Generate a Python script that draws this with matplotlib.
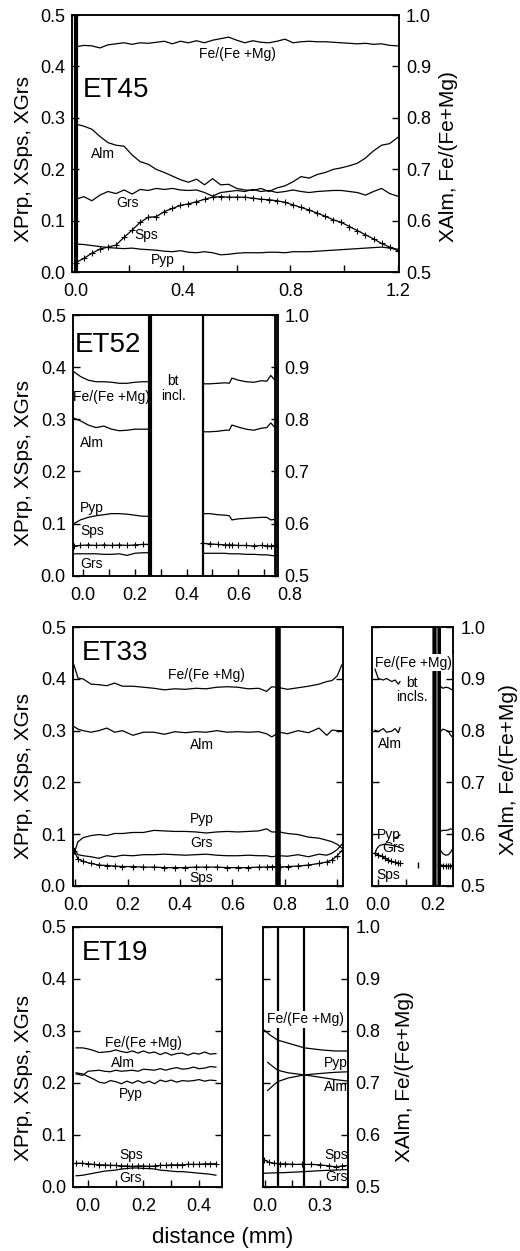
import matplotlib
matplotlib.use('Agg')
import matplotlib.pyplot as plt
from matplotlib.ticker import MultipleLocator, FormatStrFormatter

plt.rcParams['font.family'] = ['Liberation Sans', 'DejaVu Sans']

W, H = 520, 1251

# ---- ET45 ----
et45_x = [0.00, 0.03, 0.06, 0.09, 0.12, 0.15, 0.18, 0.21, 0.24, 0.27, 0.30, 0.33, 0.36, 0.39,
          0.42, 0.45, 0.48, 0.51, 0.54, 0.57, 0.60, 0.63, 0.66, 0.69, 0.72, 0.75, 0.78, 0.81,
          0.84, 0.87, 0.90, 0.93, 0.96, 0.99, 1.02, 1.05, 1.08, 1.11, 1.14, 1.17, 1.20]
et45_fe = [0.938, 0.941, 0.940, 0.936, 0.942, 0.944, 0.946, 0.943, 0.946, 0.945, 0.947, 0.949, 0.944, 0.949,
           0.946, 0.950, 0.946, 0.951, 0.954, 0.957, 0.951, 0.946, 0.950, 0.947, 0.946, 0.949, 0.953, 0.946,
           0.948, 0.949, 0.948, 0.948, 0.947, 0.946, 0.945, 0.944, 0.945, 0.943, 0.944, 0.941, 0.940]
et45_alm = [0.788, 0.784, 0.778, 0.764, 0.752, 0.747, 0.745, 0.728, 0.715, 0.710, 0.700, 0.694, 0.687, 0.680,
            0.675, 0.681, 0.670, 0.682, 0.670, 0.671, 0.663, 0.660, 0.659, 0.663, 0.657, 0.664, 0.668, 0.676,
            0.686, 0.683, 0.690, 0.694, 0.700, 0.703, 0.707, 0.712, 0.722, 0.736, 0.747, 0.750, 0.762]
et45_grs = [0.142, 0.147, 0.139, 0.150, 0.157, 0.153, 0.160, 0.152, 0.161, 0.159, 0.163, 0.161, 0.163, 0.160,
            0.159, 0.160, 0.155, 0.148, 0.155, 0.157, 0.159, 0.157, 0.161, 0.157, 0.159, 0.155, 0.157, 0.160,
            0.157, 0.155, 0.157, 0.158, 0.159, 0.159, 0.157, 0.155, 0.150, 0.157, 0.163, 0.153, 0.148]
et45_pyp = [0.055, 0.054, 0.052, 0.050, 0.048, 0.047, 0.046, 0.047, 0.045, 0.044, 0.043, 0.041, 0.040, 0.042,
            0.039, 0.038, 0.040, 0.038, 0.034, 0.035, 0.037, 0.038, 0.038, 0.038, 0.039, 0.039, 0.038, 0.040,
            0.040, 0.040, 0.041, 0.042, 0.043, 0.044, 0.045, 0.046, 0.047, 0.048, 0.049, 0.047, 0.045]
et45_sps = [0.019, 0.027, 0.037, 0.045, 0.049, 0.053, 0.068, 0.082, 0.097, 0.107, 0.108, 0.118, 0.124, 0.130,
            0.133, 0.137, 0.142, 0.146, 0.147, 0.146, 0.146, 0.146, 0.144, 0.142, 0.141, 0.139, 0.136, 0.131,
            0.126, 0.121, 0.115, 0.109, 0.102, 0.097, 0.089, 0.081, 0.073, 0.065, 0.056, 0.049, 0.042]

# ---- ET52 (core segment a, rim segment b) ----
et52_xa = [-0.035, -0.01, 0.02, 0.05, 0.08, 0.11, 0.14, 0.17, 0.20, 0.23, 0.25]
et52_fe_a = [0.891, 0.882, 0.875, 0.872, 0.872, 0.871, 0.869, 0.869, 0.871, 0.872, 0.872]
et52_alm_a = [0.802, 0.797, 0.789, 0.784, 0.787, 0.781, 0.778, 0.779, 0.781, 0.781, 0.781]
et52_pyp_a = [0.100, 0.107, 0.112, 0.115, 0.117, 0.119, 0.119, 0.118, 0.116, 0.114, 0.114]
et52_sps_a = [0.057, 0.058, 0.059, 0.058, 0.059, 0.058, 0.059, 0.058, 0.059, 0.060, 0.060]
et52_grs_a = [0.042, 0.042, 0.042, 0.042, 0.041, 0.041, 0.042, 0.039, 0.043, 0.044, 0.044]
et52_xb = [0.465, 0.49, 0.52, 0.55, 0.565, 0.575, 0.60, 0.63, 0.66, 0.69, 0.71, 0.725, 0.74, 0.752]
et52_fe_b = [0.868, 0.868, 0.869, 0.870, 0.869, 0.879, 0.875, 0.872, 0.871, 0.874, 0.873, 0.884, 0.876, 0.900]
et52_alm_b = [0.776, 0.776, 0.777, 0.779, 0.779, 0.789, 0.785, 0.781, 0.779, 0.783, 0.784, 0.793, 0.785, 0.802]
et52_pyp_b = [0.119, 0.119, 0.117, 0.116, 0.115, 0.107, 0.109, 0.110, 0.111, 0.112, 0.112, 0.107, 0.108, 0.093]
et52_sps_b = [0.062, 0.061, 0.060, 0.059, 0.059, 0.059, 0.058, 0.058, 0.057, 0.058, 0.057, 0.057, 0.058, 0.057]
et52_grs_b = [0.043, 0.043, 0.043, 0.043, 0.042, 0.042, 0.042, 0.041, 0.041, 0.040, 0.040, 0.039, 0.038, 0.039]

# ---- ET33 main profile ----
et33_x = [-0.005, 0.01, 0.03, 0.06, 0.09, 0.12, 0.15, 0.18, 0.22, 0.26, 0.30, 0.34, 0.38, 0.42, 0.46, 0.50,
          0.54, 0.58, 0.62, 0.66, 0.70, 0.73, 0.75, 0.78, 0.81, 0.85, 0.89, 0.93, 0.96, 0.98, 1.00, 1.017]
et33_fe = [0.927, 0.902, 0.900, 0.890, 0.889, 0.887, 0.892, 0.886, 0.886, 0.884, 0.882, 0.879, 0.881, 0.880,
           0.882, 0.881, 0.884, 0.885, 0.884, 0.881, 0.882, 0.876, 0.885, 0.883, 0.880, 0.883, 0.886, 0.890,
           0.895, 0.897, 0.906, 0.927]
et33_alm = [0.808, 0.803, 0.800, 0.797, 0.800, 0.805, 0.797, 0.800, 0.791, 0.797, 0.797, 0.793, 0.798, 0.796,
            0.798, 0.797, 0.800, 0.797, 0.798, 0.797, 0.798, 0.794, 0.788, 0.797, 0.794, 0.800, 0.796, 0.805,
            0.791, 0.801, 0.800, 0.800]
et33_pyp = [0.062, 0.085, 0.093, 0.097, 0.099, 0.097, 0.101, 0.101, 0.103, 0.103, 0.107, 0.106, 0.105, 0.105,
            0.104, 0.102, 0.104, 0.105, 0.104, 0.105, 0.106, 0.110, 0.104, 0.104, 0.101, 0.099, 0.094, 0.092,
            0.088, 0.085, 0.080, 0.073]
et33_grs = [0.072, 0.060, 0.058, 0.056, 0.053, 0.058, 0.056, 0.059, 0.058, 0.060, 0.060, 0.061, 0.060, 0.059,
            0.060, 0.061, 0.059, 0.058, 0.058, 0.059, 0.058, 0.058, 0.056, 0.058, 0.057, 0.060, 0.056, 0.061,
            0.059, 0.063, 0.070, 0.080]
et33_sps = [0.068, 0.052, 0.047, 0.043, 0.040, 0.039, 0.038, 0.037, 0.037, 0.036, 0.036, 0.035, 0.035, 0.035,
            0.036, 0.036, 0.036, 0.035, 0.035, 0.035, 0.036, 0.036, 0.037, 0.036, 0.037, 0.038, 0.040, 0.043,
            0.046, 0.050, 0.058, 0.068]

# ---- ET33 second profile (bt inclusions) ----
et33r_xa = [-0.012, 0.0, 0.018, 0.03, 0.049, 0.061, 0.073, 0.079]
et33r_fe_a = [0.919, 0.901, 0.898, 0.901, 0.895, 0.898, 0.890, 0.895]
et33r_alm_a = [0.801, 0.798, 0.804, 0.797, 0.799, 0.804, 0.796, 0.806]
et33r_pyp_xa = [0.061, 0.079]
et33r_pyp_a = [0.092, 0.098]
et33r_grs_xa = [-0.012, -0.005, 0.005, 0.02, 0.04, 0.06, 0.079]
et33r_grs_a = [0.062, 0.072, 0.078, 0.080, 0.079, 0.077, 0.074]
et33r_sps_xa = [-0.012, 0.0, 0.012, 0.024, 0.036, 0.048, 0.06, 0.07, 0.079]
et33r_sps_a = [0.063, 0.060, 0.057, 0.053, 0.050, 0.047, 0.045, 0.043, 0.043]
et33r_sps_dot_x = [0.144]
et33r_sps_dot = [0.040]
et33r_xb = [0.224, 0.235, 0.245, 0.255, 0.262, 0.269]
et33r_fe_b = [0.887, 0.882, 0.884, 0.883, 0.881, 0.879]
et33r_alm_b = [0.797, 0.803, 0.801, 0.799, 0.792, 0.788]
et33r_pyp_b = [0.105, 0.107, 0.107, 0.108, 0.110, 0.109]
et33r_grs_b = [0.070, 0.062, 0.059, 0.060, 0.064, 0.070]
et33r_sps_b = [0.041, 0.039, 0.039, 0.038, 0.039, 0.039]

# ---- ET19 main profile ----
et19_x = [-0.043, -0.02, 0.0, 0.02, 0.04, 0.06, 0.08, 0.10, 0.12, 0.14, 0.16, 0.18, 0.20, 0.22, 0.24,
          0.26, 0.28, 0.30, 0.32, 0.34, 0.36, 0.38, 0.40, 0.42, 0.44, 0.461]
et19_fe = [0.767, 0.767, 0.765, 0.762, 0.758, 0.759, 0.760, 0.763, 0.760, 0.758, 0.761, 0.757, 0.761,
           0.757, 0.759, 0.754, 0.758, 0.753, 0.756, 0.757, 0.753, 0.757, 0.755, 0.759, 0.755, 0.756]
et19_alm = [0.717, 0.714, 0.722, 0.723, 0.724, 0.722, 0.721, 0.724, 0.722, 0.723, 0.724, 0.722, 0.726,
            0.725, 0.724, 0.727, 0.724, 0.727, 0.729, 0.726, 0.727, 0.730, 0.727, 0.728, 0.731, 0.730]
et19_pyp = [0.219, 0.217, 0.212, 0.207, 0.201, 0.199, 0.204, 0.202, 0.198, 0.203, 0.199, 0.204, 0.199,
            0.203, 0.198, 0.205, 0.202, 0.205, 0.201, 0.204, 0.203, 0.204, 0.206, 0.203, 0.205, 0.204]
et19_sps = [0.045, 0.045, 0.044, 0.043, 0.042, 0.042, 0.041, 0.041, 0.040, 0.040, 0.039, 0.040, 0.040,
            0.039, 0.040, 0.041, 0.041, 0.042, 0.042, 0.042, 0.043, 0.043, 0.043, 0.044, 0.044, 0.044]
et19_grs = [0.021, 0.022, 0.024, 0.026, 0.028, 0.030, 0.031, 0.032, 0.034, 0.035, 0.036, 0.036, 0.035,
            0.035, 0.034, 0.032, 0.031, 0.030, 0.029, 0.029, 0.028, 0.027, 0.026, 0.025, 0.024, 0.022]

# ---- ET19 second profile ----
et19r_fe_x = [-0.004, 0.027, 0.069, 0.127, 0.215, 0.31, 0.383, 0.455]
et19r_fe = [0.801, 0.792, 0.782, 0.776, 0.767, 0.763, 0.761, 0.761]
et19r_x = [0.015, 0.04, 0.069, 0.127, 0.215, 0.31, 0.383, 0.455]
et19r_pyp = [0.185, 0.193, 0.202, 0.209, 0.215, 0.218, 0.220, 0.221]
et19r_alm = [0.739, 0.732, 0.724, 0.719, 0.715, 0.710, 0.706, 0.703]
et19r_sps_x = [-0.004, 0.02, 0.05, 0.08, 0.11, 0.15, 0.2, 0.25, 0.3, 0.35, 0.39, 0.42, 0.455]
et19r_sps = [0.052, 0.047, 0.045, 0.044, 0.044, 0.043, 0.043, 0.043, 0.042, 0.040, 0.038, 0.040, 0.041]
et19r_grs_x = [-0.004, 0.1, 0.215, 0.31, 0.455]
et19r_grs = [0.026, 0.027, 0.029, 0.031, 0.033]

LINE = dict(color='k', lw=0.9)
SPS = dict(color='k', lw=0.9, marker='+', ms=4.5, mew=0.8)
FS_TICK = 13
FS_LAB = 10

fig = plt.figure(figsize=(W / 100, H / 100), dpi=100)


def box(l, t, r, b):
    return [l / W, 1 - b / H, (r - l) / W, (b - t) / H]


def panel(rect, xlim, major, minor, left_lab, right_lab):
    ax = fig.add_axes(box(*rect))
    ax.set_xlim(*xlim)
    ax.set_ylim(0, 0.5)
    ax2 = ax.twinx()
    ax2.set_ylim(0.5, 1.0)
    ax.xaxis.set_major_locator(MultipleLocator(major))
    if minor:
        ax.xaxis.set_minor_locator(MultipleLocator(minor))
    for a in (ax, ax2):
        a.yaxis.set_major_locator(MultipleLocator(0.1))
        a.yaxis.set_major_formatter(FormatStrFormatter('%.1f'))
        for s in a.spines.values():
            s.set_linewidth(1.1)
    ax.xaxis.set_major_formatter(FormatStrFormatter('%.1f'))
    ax.tick_params(which='both', direction='in', length=5, width=1, labelsize=FS_TICK,
                   top=False, right=False, labelleft=left_lab)
    ax.tick_params(axis='x', which='both', pad=8)
    ax.tick_params(axis='y', pad=5)
    ax2.tick_params(direction='in', length=5, width=1, labelsize=FS_TICK, pad=5,
                    labelright=right_lab)
    return ax, ax2


def lab(ax, x, y, s, boxed=False, **kw):
    kw.setdefault('ha', 'center')
    kw.setdefault('fontsize', FS_LAB)
    bb = dict(facecolor='white', edgecolor='none', pad=1) if boxed else None
    ax.text(x, y, s, va='center', bbox=bb, zorder=5, linespacing=1.05, **kw)


# ET45
ax, ax2 = panel((72.3, 15, 399, 272.3), (-0.013, 1.205), 0.4, 0.2, True, True)
ax.axvline(0.0, color='k', lw=3)
ax2.plot(et45_x, et45_fe, **LINE)
ax2.plot(et45_x, et45_alm, **LINE)
ax.plot(et45_x, et45_grs, **LINE)
ax.plot(et45_x, et45_pyp, **LINE)
ax.plot(et45_x, et45_sps, **SPS)
lab(ax, 0.026, 0.354, 'ET45', ha='left', fontsize=20)
lab(ax, 0.604, 0.425, 'Fe/(Fe +Mg)')
lab(ax, 0.103, 0.230, 'Alm')
lab(ax, 0.194, 0.134, 'Grs')
lab(ax, 0.262, 0.0725, 'Sps')
lab(ax, 0.324, 0.024, 'Pyp')

# ET52
ax, ax2 = panel((72.7, 315, 277.7, 575.7), (-0.04, 0.752), 0.2, 0.1, True, True)
ax.axvline(0.259, color='k', lw=3)
ax.axvline(0.4626, color='k', lw=1.6)
ax.axvline(0.742, color='k', lw=2)
ax.annotate('0.8', xy=(0.8, 0), xycoords=('data', 'axes fraction'), xytext=(0, -8),
            textcoords='offset points', ha='center', va='top', fontsize=FS_TICK,
            annotation_clip=False)
for xs, fe, alm, pyp, sps, grs in ((et52_xa, et52_fe_a, et52_alm_a, et52_pyp_a, et52_sps_a, et52_grs_a),
                                   (et52_xb, et52_fe_b, et52_alm_b, et52_pyp_b, et52_sps_b, et52_grs_b)):
    ax2.plot(xs, fe, **LINE)
    ax2.plot(xs, alm, **LINE)
    ax.plot(xs, pyp, **LINE)
    ax.plot(xs, sps, **SPS)
    ax.plot(xs, grs, **LINE)
lab(ax, -0.031, 0.4425, 'ET52', ha='left', fontsize=20)
lab(ax, 0.111, 0.343, 'Fe/(Fe +Mg)')
lab(ax, 0.349, 0.359, 'bt\nincl.')
lab(ax, 0.0335, 0.255, 'Alm')
lab(ax, 0.0335, 0.129, 'Pyp')
lab(ax, 0.0335, 0.0857, 'Sps')
lab(ax, 0.0335, 0.0225, 'Grs')

# ET33 main
ax, ax2 = panel((72.7, 627.3, 343.3, 885.7), (-0.01, 1.023), 0.2, None, True, False)
ax.axvline(0.772, color='k', lw=4)
ax2.plot(et33_x, et33_fe, **LINE)
ax2.plot(et33_x, et33_alm, **LINE)
ax.plot(et33_x, et33_pyp, **LINE)
ax.plot(et33_x, et33_grs, **LINE)
ax.plot(et33_x, et33_sps, **SPS)
lab(ax, 0.024, 0.4497, 'ET33', ha='left', fontsize=20)
lab(ax, 0.501, 0.408, 'Fe/(Fe +Mg)')
lab(ax, 0.482, 0.272, 'Alm')
lab(ax, 0.482, 0.1285, 'Pyp')
lab(ax, 0.482, 0.082, 'Grs')
lab(ax, 0.482, 0.0143, 'Sps')

# ET33 second profile
ax, ax2 = panel((371.7, 627.3, 453.3, 885.7), (-0.024, 0.273), 0.2, 0.1, False, True)
ax.axvspan(0.197, 0.227, color='0.4', lw=0)
ax.axvline(0.2015, color='k', lw=2.2)
ax.axvline(0.2225, color='k', lw=2.2)
ax2.plot(et33r_xa, et33r_fe_a, **LINE)
ax2.plot(et33r_xa, et33r_alm_a, **LINE)
ax.plot(et33r_pyp_xa, et33r_pyp_a, **LINE)
ax.plot(et33r_grs_xa, et33r_grs_a, **LINE)
ax.plot(et33r_sps_xa, et33r_sps_a, **SPS)
ax.plot(et33r_sps_dot_x, et33r_sps_dot, color='k', ls='none', marker='|', ms=5, mew=1)
ax2.plot(et33r_xb, et33r_fe_b, **LINE)
ax2.plot(et33r_xb, et33r_alm_b, **LINE)
ax.plot(et33r_xb, et33r_pyp_b, **LINE)
ax.plot(et33r_xb, et33r_grs_b, **LINE)
ax.plot(et33r_xb, et33r_sps_b, **SPS)
lab(ax, 0.127, 0.4315, 'Fe/(Fe +Mg)', boxed=True)
lab(ax, 0.121, 0.379, 'bt\nincls.')
lab(ax, 0.0425, 0.274, 'Alm')
lab(ax, 0.039, 0.098, 'Pyp')
lab(ax, 0.0545, 0.0724, 'Grs')
lab(ax, 0.036, 0.0207, 'Sps')

# ET19 main
ax, ax2 = panel((73.3, 926.7, 222.3, 1186.7), (-0.053, 0.484), 0.2, 0.1, True, False)
ax2.plot(et19_x, et19_fe, **LINE)
ax2.plot(et19_x, et19_alm, **LINE)
ax.plot(et19_x, et19_pyp, **LINE)
ax.plot(et19_x, et19_sps, **SPS)
ax.plot(et19_x, et19_grs, **LINE)
lab(ax, -0.023, 0.449, 'ET19', ha='left', fontsize=20)
lab(ax, 0.200, 0.277, 'Fe/(Fe +Mg)')
lab(ax, 0.127, 0.2385, 'Alm')
lab(ax, 0.154, 0.178, 'Pyp')
lab(ax, 0.154, 0.061, 'Sps')
lab(ax, 0.154, 0.0162, 'Grs')

# ET19 second profile
ax, ax2 = panel((263.3, 926.7, 348.3, 1186.7), (-0.009, 0.455), 0.3, 0.15, False, True)
ax.axvline(0.069, color='k', lw=1.6)
ax.axvline(0.215, color='k', lw=1.6)
ax2.plot(et19r_fe_x, et19r_fe, **LINE)
ax2.plot(et19r_x, et19r_alm, **LINE)
ax.plot(et19r_x, et19r_pyp, **LINE)
ax.plot(et19r_sps_x, et19r_sps, **SPS)
ax.plot(et19r_grs_x, et19r_grs, **LINE)
lab(ax, 0.219, 0.322, 'Fe/(Fe +Mg)', boxed=True)
lab(ax, 0.388, 0.2385, 'Pyp')
lab(ax, 0.388, 0.192, 'Alm')
lab(ax, 0.388, 0.061, 'Sps')
lab(ax, 0.388, 0.018, 'Grs')

# axis titles
left_title = 'XPrp, XSps, XGrs'
right_title = 'XAlm, Fe/(Fe+Mg)'
for yc in (159, 463, 776, 1078):
    fig.text(24 / W, 1 - yc / H, left_title, rotation=90, ha='center', va='center', fontsize=15)
for xc, yc in ((448, 156.5), (509, 770), (404, 1076.5)):
    fig.text(xc / W, 1 - yc / H, right_title, rotation=90, ha='center', va='center', fontsize=15)
fig.text(223 / W, 1 - 1238 / H, 'distance (mm)', ha='center', va='center', fontsize=16)

fig.savefig('out.png', dpi=100)
